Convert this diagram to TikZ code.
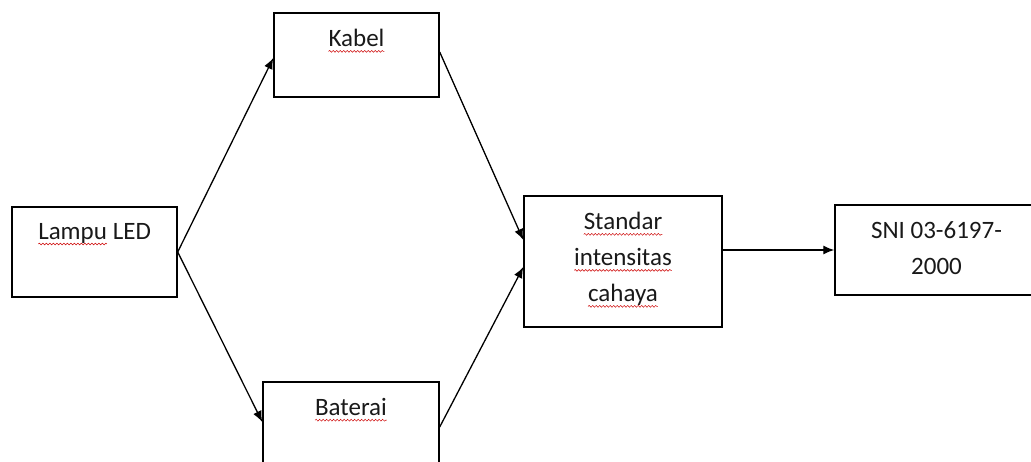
\documentclass[tikz,border=0pt]{standalone}
\usepackage{fontspec}
\setmainfont{Carlito}
\usetikzlibrary{positioning,arrows.meta,decorations.pathmorphing}
\newcommand{\salah}[1]{\tikz[baseline=(w.base)]{\node[inner sep=0pt, outer sep=0pt, anchor=base] (w) at (0,0) {#1};
	\draw[red!80!black, line width=0.5pt, decorate, decoration={snake,amplitude=0.9pt,segment length=3.5pt}] ([yshift=-4.5pt]w.base west) -- ([yshift=-4.5pt]w.base east);}}
\tikzset{%
	block/.style = {draw, rectangle, line width=1.4pt, inner sep=0pt},
	isi/.style   = {anchor=north, inner sep=0pt, yshift=-17pt, align=center, text=black!90, font=\fontsize{25}{36}\selectfont},
	arrow/.style = {line width=1.3pt,-{Latex[length=11pt,width=9pt]}},
}
\begin{document}
\begin{tikzpicture}[x=1pt,y=-1pt]
	\useasboundingbox (0,0) rectangle (1031,462);
	\node[block, minimum width=165pt, minimum height=90pt, label={[isi]north:\salah{Lampu} LED}] (lampu) at (94.5,252) {};  % sumber
	\node[block, minimum width=165pt, minimum height=84pt, label={[isi]north:\salah{Kabel}}] (kabel) at (356.5,55) {};
	\node[block, minimum width=176pt, minimum height=90pt, label={[isi]north:\salah{Baterai}}] (baterai) at (351,427) {};
	\node[block, minimum width=198pt, minimum height=131pt, label={[isi]north:\salah{Standar}\\\salah{intensitas}\\\salah{cahaya}}] (standar) at (623,261.5) {};
	\node[block, minimum width=215pt, minimum height=90pt, label={[isi,xshift=-6pt]north:SNI 03-6197-\\2000}] (sni) at (942.5,250) {};
	\draw[arrow] (lampu.east) -- ([yshift=-3pt]kabel.west);
	\draw[arrow] (lampu.east) -- ([yshift=5pt]baterai.west);
	\draw[arrow] ([yshift=3pt]kabel.east) -- ([yshift=21.5pt]standar.west);
	\draw[arrow] (baterai.east) -- ([yshift=-5.5pt]standar.west);
	\draw[arrow] (standar.east |- sni.west) -- (sni.west);
\end{tikzpicture}
\end{document}
